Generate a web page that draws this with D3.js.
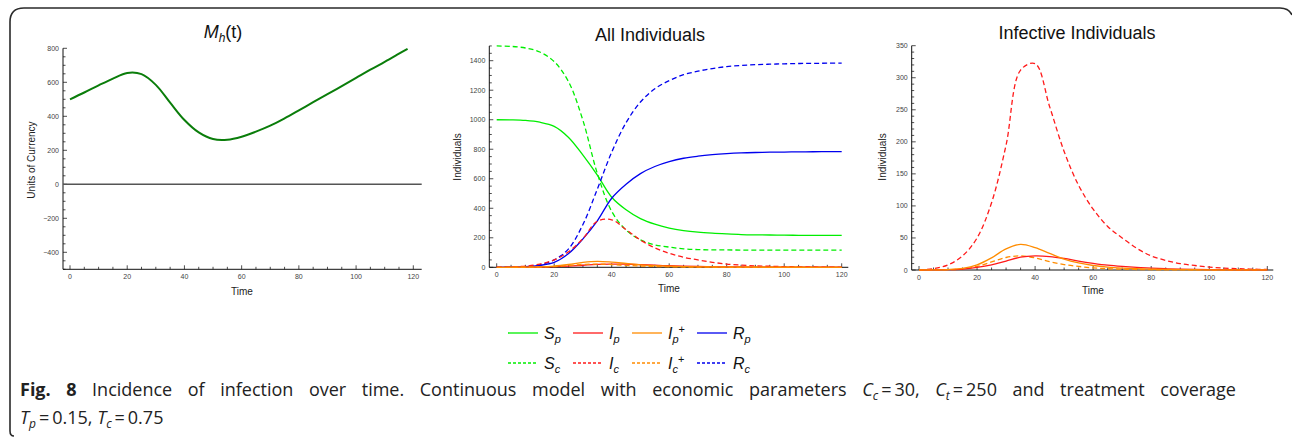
<!DOCTYPE html>
<html>
<head>
<meta charset="utf-8">
<script src="https://cdn.jsdelivr.net/npm/d3@7/dist/d3.min.js"></script>
<style>
  html, body { margin: 0; padding: 0; background: #fff; }
  svg { display: block; }
  .tick-label { font-family: "Liberation Sans", Arial, sans-serif; font-size: 7px; fill: #444; }
  .axis-title { font-family: "Liberation Sans", Arial, sans-serif; font-size: 10px; fill: #222; }
  .panel-title { font-family: "Liberation Sans", Arial, sans-serif; font-size: 18px; fill: #111; }
  .legend-label { font-family: "Liberation Sans", Arial, sans-serif; font-size: 16px; fill: #111; }
  .caption { font-family: "Open Sans", "Noto Sans", sans-serif; font-size: 18px; fill: #222; }
</style>
</head>
<body>
<svg id="fig" width="1292" height="438"></svg>
<script>
// ---- Data -------------------------------------------------------------
const time = [0, 5, 10, 15, 20, 25, 30, 35, 40, 45, 50, 55, 60, 65, 70, 75, 80, 85, 90, 95, 100, 105, 110, 115, 120];

// Health budget M_h(t)
const mhTime = [0, 5, 10, 15, 20, 25, 30, 35, 40, 45, 50, 55, 60, 65, 70, 75, 80, 85, 90, 95, 100, 105, 110, 115, 118];
const mh = [500, 540, 582, 622, 655, 648, 585, 480, 378, 305, 266, 262, 280, 310, 345, 388, 435, 483, 530, 578, 626, 674, 720, 768, 797];

// Population p
const Sp  = [1000, 999, 995, 983, 955, 880, 760, 625, 475, 390, 330, 292, 266, 249, 238, 231, 226, 222, 220, 219, 218, 217, 217, 216, 216];
const Ip  = [0, 0.2, 0.6, 1.5, 4, 8, 14, 20, 22, 21, 18, 14, 10.5, 7.5, 5.5, 4, 3, 2, 1.4, 1, 0.7, 0.5, 0.3, 0.2, 0.15];
const IpT = [0, 0.2, 0.7, 2.5, 8, 19, 33, 40, 35, 26, 17, 11, 7, 4.5, 3, 2, 1.3, 0.9, 0.6, 0.4, 0.3, 0.2, 0.1, 0.1, 0.05];
const Rp  = [0, 1, 4, 13, 33, 93, 193, 315, 468, 563, 635, 683, 716, 739, 753, 763, 770, 775, 778, 780, 781, 782, 783, 784, 784];

// Population c
const Sc  = [1500, 1497, 1486, 1459, 1394, 1257, 995, 636, 379, 252, 186, 152, 137, 125, 120, 118, 117.5, 117, 116.5, 116.4, 116.3, 116.2, 116.1, 116, 116];
const Ic  = [0.3, 2, 8, 22, 50, 105, 195, 312, 322, 255, 185, 132, 95, 68, 50, 34, 22, 15, 10, 7, 4.5, 3, 2, 1.3, 0.8];
const IcT = [0, 0.1, 0.5, 1.5, 5.5, 12.5, 19.5, 22, 19, 13, 8.5, 5.5, 3.3, 2, 1.3, 0.8, 0.5, 0.3, 0.2, 0.1, 0.05, 0, 0, 0, 0];
const Rc  = [0, 1, 5, 17, 50, 125, 290, 530, 780, 980, 1120, 1210, 1265, 1305, 1329, 1347, 1360, 1368, 1373, 1376.5, 1379, 1381, 1382, 1383, 1383];

// Axis ticks
const xTicks = [0, 20, 40, 60, 80, 100, 120];
const mhTicks = [-400, -200, 0, 200, 400, 600, 800];
const allTicks = [0, 200, 400, 600, 800, 1000, 1200, 1400];
const infTicks = [0, 50, 100, 150, 200, 250, 300, 350];

const GREEN = "#00ee00", RED = "#ff1a1a", ORANGE = "#ff8c00", BLUE = "#0000ee";

const series = [
  { name: "S", sub: "p", sup: "", values: Sp,  color: GREEN,  dashed: false },
  { name: "I", sub: "p", sup: "", values: Ip,  color: RED,    dashed: false },
  { name: "I", sub: "p", sup: "+", values: IpT, color: ORANGE, dashed: false },
  { name: "R", sub: "p", sup: "", values: Rp,  color: BLUE,   dashed: false },
  { name: "S", sub: "c", sup: "", values: Sc,  color: GREEN,  dashed: true },
  { name: "I", sub: "c", sup: "", values: Ic,  color: RED,    dashed: true },
  { name: "I", sub: "c", sup: "+", values: IcT, color: ORANGE, dashed: true },
  { name: "R", sub: "c", sup: "", values: Rc,  color: BLUE,   dashed: true }
];

const svg = d3.select("#fig");

// ---- Outer frame ------------------------------------------------------
svg.append("path")
  .attr("d", "M 14,436 Q 10,436 10,431 L 10,22 Q 10,8 24,8 L 1280,8 Q 1289,8 1292,15")
  .attr("fill", "none").attr("stroke", "#2a2a2a").attr("stroke-width", 1.6);

// ---- Panel helper -----------------------------------------------------
function panel(cfg) {
  const g = svg.append("g");
  const x = d3.scaleLinear().domain([0, 120]).range(cfg.xr);
  const y = d3.scaleLinear().domain(cfg.yd).range(cfg.yr);
  const axisY = y(cfg.yMin);
  const axisX = cfg.axisLeft;

  // minor + major ticks on x (pointing inward / up)
  for (let t = 0; t <= 120; t += 5) {
    const major = t % 20 === 0;
    g.append("line").attr("x1", x(t)).attr("x2", x(t))
      .attr("y1", axisY).attr("y2", axisY - (major ? 4 : 2.5))
      .attr("stroke", "#222").attr("stroke-width", 0.8);
  }
  xTicks.forEach(t => {
    g.append("text").attr("class", "tick-label").attr("x", x(t)).attr("y", axisY + 10)
      .attr("text-anchor", "middle").text(t);
  });

  // y ticks
  for (let v = cfg.yMin; v <= cfg.yMax + 1e-9; v += cfg.minorStep) {
    const major = cfg.ticks.includes(Math.round(v));
    g.append("line").attr("x1", axisX).attr("x2", axisX + (major ? 4 : 2.5))
      .attr("y1", y(v)).attr("y2", y(v))
      .attr("stroke", "#222").attr("stroke-width", 0.8);
  }
  cfg.ticks.forEach(v => {
    g.append("text").attr("class", "tick-label").attr("x", axisX - 4).attr("y", y(v) + 2.5)
      .attr("text-anchor", "end").text(v < 0 ? "\u2212" + Math.abs(v) : v);
  });

  // axis lines
  g.append("line").attr("x1", axisX).attr("x2", cfg.axisRight)
    .attr("y1", axisY).attr("y2", axisY).attr("stroke", "#111").attr("stroke-width", 1);
  g.append("line").attr("x1", axisX).attr("x2", axisX)
    .attr("y1", axisY).attr("y2", y(cfg.yMax)).attr("stroke", "#111").attr("stroke-width", 1);

  // axis titles
  g.append("text").attr("class", "axis-title").attr("x", cfg.timeX).attr("y", cfg.timeY)
    .attr("text-anchor", "middle").text("Time");
  g.append("text").attr("class", "axis-title")
    .attr("transform", `translate(${cfg.ylabX},${cfg.ylabY}) rotate(-90)`)
    .attr("text-anchor", "middle").text(cfg.ylab);

  return { g, x, y };
}

const lineGen = (x, y, ts) => d3.line()
  .x((d, i) => x(ts[i])).y(d => y(d))
  .curve(d3.curveCatmullRom.alpha(0.5));

// ---- Panel 1: M_h(t) --------------------------------------------------
{
  const p = panel({
    xr: [70, 413.3], yd: [-500, 800], yr: [269.3, 48.3],
    yMin: -500, yMax: 800, minorStep: 50, ticks: mhTicks,
    axisLeft: 63, axisRight: 421.7,
    timeX: 242, timeY: 295, ylab: "Units of Currency", ylabX: 35, ylabY: 160
  });
  // zero reference line
  p.g.append("line").attr("x1", 63).attr("x2", 421.7)
    .attr("y1", p.y(0)).attr("y2", p.y(0))
    .attr("stroke", "#555").attr("stroke-width", 1.6);
  p.g.append("path").datum(mh)
    .attr("d", lineGen(p.x, p.y, mhTime))
    .attr("fill", "none").attr("stroke", "#0a7d0a").attr("stroke-width", 2);
  const t = p.g.append("text").attr("class", "panel-title").attr("x", 223).attr("y", 38)
    .attr("text-anchor", "middle");
  t.append("tspan").attr("font-style", "italic").text("M");
  t.append("tspan").attr("font-style", "italic").attr("font-size", "12px").attr("dy", 4).text("h");
  t.append("tspan").attr("dy", -4).text("(t)");
}

// ---- Panel 2: All Individuals ----------------------------------------
{
  const p = panel({
    xr: [496.7, 841.7], yd: [0, 1400], yr: [267.3, 60.7],
    yMin: 0, yMax: 1500, minorStep: 50, ticks: allTicks,
    axisLeft: 489.3, axisRight: 848.3,
    timeX: 669, timeY: 292, ylab: "Individuals", ylabX: 461, ylabY: 157
  });
  const order = [4, 0, 7, 3, 5, 1, 6, 2];
  order.forEach(k => {
    const s = series[k];
    p.g.append("path").datum(s.values)
      .attr("d", lineGen(p.x, p.y, time))
      .attr("fill", "none").attr("stroke", s.color).attr("stroke-width", 1.3)
      .attr("stroke-dasharray", s.dashed ? "5,3" : null);
  });
  p.g.append("text").attr("class", "panel-title").attr("x", 650).attr("y", 41)
    .attr("text-anchor", "middle").text("All Individuals");
}

// ---- Panel 3: Infective Individuals ----------------------------------
{
  const p = panel({
    xr: [919, 1267.3], yd: [0, 350], yr: [270, 45.7],
    yMin: 0, yMax: 350, minorStep: 10, ticks: infTicks,
    axisLeft: 911.7, axisRight: 1273.3,
    timeX: 1093, timeY: 294, ylab: "Individuals", ylabX: 886, ylabY: 157
  });
  [5, 6, 1, 2].forEach(k => {
    const s = series[k];
    p.g.append("path").datum(s.values)
      .attr("d", lineGen(p.x, p.y, time))
      .attr("fill", "none").attr("stroke", s.color).attr("stroke-width", 1.3)
      .attr("stroke-dasharray", s.dashed ? "5,3" : null);
  });
  p.g.append("text").attr("class", "panel-title").attr("x", 1077).attr("y", 39)
    .attr("text-anchor", "middle").text("Infective Individuals");
}

// ---- Legend -----------------------------------------------------------
{
  const lx = [508, 573, 632, 697];
  const rowY = [333, 363];
  series.forEach((s, i) => {
    const col = i % 4, row = Math.floor(i / 4);
    const g = svg.append("g").attr("transform", `translate(${lx[col]},${rowY[row]})`);
    g.append("line").attr("x1", 0).attr("x2", 30).attr("y1", 0).attr("y2", 0)
      .attr("stroke", s.color).attr("stroke-width", 1.3)
      .attr("stroke-dasharray", s.dashed ? "3,2" : null);
    const t = g.append("text").attr("class", "legend-label").attr("x", 36).attr("y", 6);
    t.append("tspan").attr("font-style", "italic").text(s.name);
    t.append("tspan").attr("font-style", "italic").attr("font-size", "11px").attr("dy", 4).text(s.sub);
    if (s.sup) t.append("tspan").attr("font-size", "11px").attr("dy", -10).text(s.sup);
  });
}

// ---- Caption (first line justified to the text block width) ----------
{
  const c1 = svg.append("text").attr("class", "caption").attr("x", 20).attr("y", 396);
  c1.append("tspan").attr("font-weight", "bold").text("Fig. 8");
  c1.append("tspan").text(" Incidence of infection over time. Continuous model with economic parameters ");
  c1.append("tspan").attr("font-style", "italic").text("C");
  c1.append("tspan").attr("font-style", "italic").attr("font-size", "12px").attr("dy", 4).text("c");
  c1.append("tspan").attr("dy", -4).text("\u2009=\u200930, ");
  c1.append("tspan").attr("font-style", "italic").text("C");
  c1.append("tspan").attr("font-style", "italic").attr("font-size", "12px").attr("dy", 4).text("t");
  c1.append("tspan").attr("dy", -4).text("\u2009=\u2009250 and treatment coverage");

  const blockRight = 1236;
  const natural = c1.node().getComputedTextLength();
  const spaces = (c1.text().match(/ /g) || []).length;
  if (spaces > 0 && natural < blockRight - 20) {
    c1.style("word-spacing", ((blockRight - 20 - natural) / spaces) + "px");
  }

  const c2 = svg.append("text").attr("class", "caption").attr("x", 20).attr("y", 424);
  c2.append("tspan").attr("font-style", "italic").text("T");
  c2.append("tspan").attr("font-style", "italic").attr("font-size", "12px").attr("dy", 4).text("p");
  c2.append("tspan").attr("dy", -4).text("\u2009=\u20090.15, ");
  c2.append("tspan").attr("font-style", "italic").text("T");
  c2.append("tspan").attr("font-style", "italic").attr("font-size", "12px").attr("dy", 4).text("c");
  c2.append("tspan").attr("dy", -4).text("\u2009=\u20090.75");
}
</script>
</body>
</html>
